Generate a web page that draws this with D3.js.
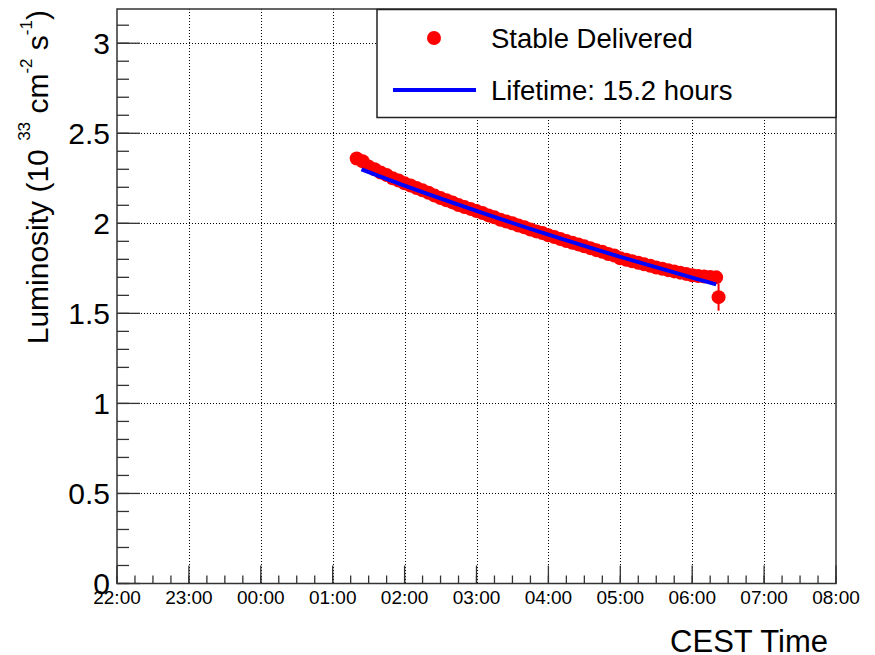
<!DOCTYPE html>
<html>
<head>
<meta charset="utf-8">
<script src="https://cdn.jsdelivr.net/npm/d3@7"></script>
<style>
  html, body { margin: 0; padding: 0; background: #fff; }
  svg { display: block; }
  text { font-family: "Liberation Sans", Arial, Helvetica, sans-serif; fill: #000; }
</style>
</head>
<body>
<svg id="chart" width="875" height="655"></svg>
<script>
// ---------------- data ----------------
const times = ["01:20","01:25","01:30","01:35","01:40","01:45","01:50","01:55",
  "02:00","02:05","02:10","02:15","02:20","02:25","02:30","02:35","02:40","02:45","02:50","02:55",
  "03:00","03:05","03:10","03:15","03:20","03:25","03:30","03:35","03:40","03:45","03:50","03:55",
  "04:00","04:05","04:10","04:15","04:20","04:25","04:30","04:35","04:40","04:45","04:50","04:55",
  "05:00","05:05","05:10","05:15","05:20","05:25","05:30","05:35","05:40","05:45","05:50","05:55",
  "06:00","06:05","06:10","06:15","06:20","06:22"];
const lumi = [2.360,2.345,2.315,2.300,2.282,2.268,2.250,2.238,
  2.222,2.210,2.196,2.183,2.170,2.154,2.140,2.128,2.116,2.102,2.090,2.080,
  2.068,2.057,2.044,2.033,2.020,2.010,2.000,1.988,1.978,1.966,1.955,1.946,
  1.934,1.924,1.913,1.902,1.892,1.883,1.872,1.862,1.851,1.842,1.830,1.821,
  1.806,1.798,1.789,1.781,1.772,1.764,1.755,1.748,1.740,1.733,1.726,1.719,
  1.712,1.707,1.704,1.702,1.700,1.590];
const lumiErr = [0.005,0.005,0.005,0.005,0.005,0.005,0.005,0.005,
  0.005,0.005,0.005,0.005,0.005,0.005,0.005,0.005,0.005,0.005,0.005,0.005,
  0.005,0.005,0.005,0.005,0.005,0.005,0.005,0.005,0.005,0.005,0.005,0.005,
  0.005,0.005,0.005,0.005,0.005,0.005,0.005,0.005,0.005,0.005,0.005,0.005,
  0.005,0.005,0.005,0.005,0.005,0.005,0.005,0.005,0.005,0.005,0.005,0.005,
  0.005,0.005,0.005,0.005,0.005,0.075];
const fitTimes = ["01:24","02:00","03:00","04:00","05:00","06:00","06:20"];
const fitLumi  = [2.300,2.209,2.069,1.937,1.814,1.698,1.661];
const xDomain = ["22:00","08:00"];
const yDomain = [0, 3.19];
const legendLabels = ["Stable Delivered", "Lifetime: 15.2 hours"];
const xTitle = "CEST Time";

// ---------------- helpers ----------------
function toDate(hm) {
  const [h, m] = hm.split(":").map(Number);
  const day = h >= 12 ? 1 : 2;
  return new Date(Date.UTC(2012, 5, day, h, m));
}

const svg = d3.select("#chart");
const L = 117, R = 836, T = 9, B = 583.5;

const x = d3.scaleUtc().domain(xDomain.map(toDate)).range([L, R]);
const y = d3.scaleLinear().domain(yDomain).range([B, T]);

// ---------------- grid ----------------
const majorX = d3.utcHour.every(1).range(x.domain()[0], new Date(+x.domain()[1] + 1));
const minorX = d3.utcMinute.every(15).range(x.domain()[0], new Date(+x.domain()[1] + 1));
const majorY = y.ticks(6);
const minorY = y.ticks(30);

const grid = svg.append("g").attr("stroke", "#000").attr("stroke-width", 1)
  .attr("stroke-dasharray", "1,2");
grid.selectAll("line.gx").data(majorX.filter(d => x(d) > L + 1 && x(d) < R - 1)).join("line")
  .attr("x1", d => Math.round(x(d)) + 0.5).attr("x2", d => Math.round(x(d)) + 0.5)
  .attr("y1", T).attr("y2", B);
grid.selectAll("line.gy").data(majorY.filter(d => d > 0)).join("line")
  .attr("y1", d => Math.round(y(d)) + 0.5).attr("y2", d => Math.round(y(d)) + 0.5)
  .attr("x1", L).attr("x2", R);

// ---------------- data ----------------
const pts = times.map((t, i) => ({ t: toDate(t), v: lumi[i], e: lumiErr[i] }));
const dataG = svg.append("g");
dataG.selectAll("line.err").data(pts).join("line")
  .attr("x1", d => x(d.t)).attr("x2", d => x(d.t))
  .attr("y1", d => y(d.v + d.e)).attr("y2", d => y(d.v - d.e))
  .attr("stroke", "#ff0000").attr("stroke-width", 2);
dataG.selectAll("circle").data(pts).join("circle")
  .attr("cx", d => x(d.t)).attr("cy", d => y(d.v)).attr("r", 7)
  .attr("fill", "#ff0000");

const fitPts = fitTimes.map((t, i) => ({ t: toDate(t), v: fitLumi[i] }));
svg.append("path").datum(fitPts)
  .attr("d", d3.line().x(d => x(d.t)).y(d => y(d.v)).curve(d3.curveMonotoneX))
  .attr("fill", "none").attr("stroke", "#0000ff").attr("stroke-width", 4);

// ---------------- axes ----------------
const ax = svg.append("g").attr("stroke", "#333").attr("stroke-width", 1.3);
ax.selectAll("line.mx").data(minorX).join("line")
  .attr("x1", d => x(d)).attr("x2", d => x(d)).attr("y1", B).attr("y2", B - 8);
ax.selectAll("line.Mx").data(majorX).join("line")
  .attr("x1", d => x(d)).attr("x2", d => x(d)).attr("y1", B).attr("y2", B - 18);
ax.selectAll("line.my").data(minorY).join("line")
  .attr("y1", d => y(d)).attr("y2", d => y(d)).attr("x1", L).attr("x2", L + 12);
ax.selectAll("line.My").data(majorY).join("line")
  .attr("y1", d => y(d)).attr("y2", d => y(d)).attr("x1", L).attr("x2", L + 23);

svg.append("rect").attr("x", L).attr("y", T).attr("width", R - L).attr("height", B - T)
  .attr("fill", "none").attr("stroke", "#333").attr("stroke-width", 1.5);

const fmt = d3.utcFormat("%H:%M");
svg.append("g").selectAll("text").data(majorX).join("text")
  .attr("x", d => x(d)).attr("y", 604).attr("text-anchor", "middle")
  .attr("font-size", 19).text(d => fmt(d));

svg.append("g").selectAll("text").data(majorY).join("text")
  .attr("x", 110).attr("y", d => y(d) + 10.8).attr("text-anchor", "end")
  .attr("font-size", 30).text(d => d3.format("~g")(d));

svg.append("text").attr("x", 828).attr("y", 652).attr("text-anchor", "end")
  .attr("font-size", 31).text(xTitle);

const yt = svg.append("text").attr("transform", "rotate(-90)")
  .attr("x", -10).attr("y", 48).attr("text-anchor", "end").attr("font-size", 30);
yt.append("tspan").text("Luminosity (10 ");
yt.append("tspan").attr("font-size", 17).attr("dy", -18).text("33");
yt.append("tspan").attr("dy", 18).text(" cm");
yt.append("tspan").attr("font-size", 17).attr("dy", -16).text("-2");
yt.append("tspan").attr("dy", 16).text(" s");
yt.append("tspan").attr("font-size", 17).attr("dy", -16).text("-1");
yt.append("tspan").attr("dy", 16).text(")");

// ---------------- legend ----------------
const lg = svg.append("g");
lg.append("rect").attr("x", 377).attr("y", 9.5).attr("width", 459).attr("height", 108)
  .attr("fill", "#fff").attr("stroke", "#222").attr("stroke-width", 1.5);
lg.append("circle").attr("cx", 434).attr("cy", 38).attr("r", 7).attr("fill", "#ff0000");
lg.append("line").attr("x1", 393).attr("x2", 476).attr("y1", 90).attr("y2", 90)
  .attr("stroke", "#0000ff").attr("stroke-width", 4);
lg.append("text").attr("x", 491).attr("y", 48).attr("font-size", 27.5).text(legendLabels[0]);
lg.append("text").attr("x", 491).attr("y", 100).attr("font-size", 27.5).text(legendLabels[1]);
</script>
</body>
</html>
